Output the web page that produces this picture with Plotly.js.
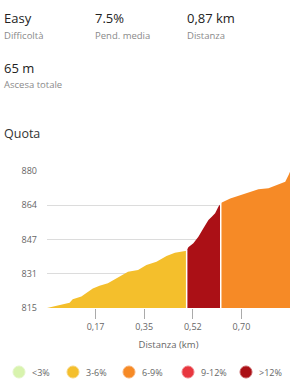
<!DOCTYPE html>
<html>
<head>
<meta charset="utf-8">
<script src="https://cdn.plot.ly/plotly-3.0.1.min.js"></script>
<style>
  html, body { margin: 0; padding: 0; background: #fff; }
  #chart { width: 293px; height: 390px; }
</style>
</head>
<body>
<div id="chart"></div>
<script>
// ---- data ----
const yellowX = [0, 0.045, 0.081, 0.092, 0.123, 0.164, 0.188, 0.218, 0.248, 0.29, 0.326, 0.356, 0.392, 0.428, 0.458, 0.494, 0.5];
const yellowY = [815, 816.4, 817.5, 819.1, 820.4, 824.3, 825.6, 826.7, 829.1, 832.2, 833.0, 835.4, 837.0, 839.7, 841.2, 842.0, 842.2];
const redX = [0.5, 0.506, 0.524, 0.542, 0.56, 0.578, 0.59, 0.602, 0.614, 0.622];
const redY = [842.2, 843.8, 845.7, 848.8, 852.8, 856.7, 858.3, 859.9, 863.1, 864.5];
const orangeX = [0.622, 0.626, 0.656, 0.692, 0.728, 0.757, 0.793, 0.829, 0.853, 0.865, 0.87];
const orangeY = [864.5, 865.0, 867.0, 868.6, 869.9, 871.3, 871.8, 873.8, 874.9, 878.1, 879.7];
const segmentBounds = [0.5, 0.622];
const boundElev = [842.2, 864.5];

const xTickVals = [0.174, 0.348, 0.522, 0.696];
const yTickVals = [815, 831.25, 847.5, 863.75, 880];
const yTickText = ['815', '831', '847', '864', '880'];

const legendLabels = ['<3%', '3-6%', '6-9%', '9-12%', '>12%'];
const statValues = ['Easy', '7.5%', '0,87 km', '65 m'];
const statLabels = ['Difficoltà', 'Pend. media', 'Distanza', 'Ascesa totale'];

// ---- styles ----
const segColors = ['#f4bf2c', '#ab1016', '#f68a26'];
const legendFill = ['#d8f3ae', '#f4bf2c', '#f68a26', '#e8373f', '#ab1016'];
const legendLine = ['#e4f5c8', '#f7d47a', '#f9b071', '#f08086', '#c86064'];
const FONT = '"Open Sans", "Noto Sans", sans-serif';

// pixel -> paper helpers
const L = 47, R = 3, T = 171, B = 82, W = 293, H = 390;
const pw = W - L - R, ph = H - T - B;
const px = x => (x - L) / pw;
const py = y => (H - B - y) / ph;

function fillTrace(x, y, c) {
  return { x: x, y: y, type: 'scatter', mode: 'lines', fill: 'tozeroy',
           fillcolor: c, line: { width: 0, color: c }, hoverinfo: 'skip', showlegend: false };
}
const data = [
  fillTrace(yellowX, yellowY, segColors[0]),
  fillTrace(redX, redY, segColors[1]),
  fillTrace(orangeX, orangeY, segColors[2])
];

const annotations = [];
const shapes = [];
// header stats
const statX = [2, 93, 185, 2];
const statValY = [18, 18, 18, 68];
const statLblY = [35, 35, 35, 84.5];
for (let i = 0; i < statValues.length; i++) {
  annotations.push({ xref: 'paper', yref: 'paper', x: px(statX[i]), y: py(statValY[i]),
    xanchor: 'left', yanchor: 'middle', showarrow: false, text: statValues[i],
    font: { family: FONT, size: 13, color: '#222' } });
  annotations.push({ xref: 'paper', yref: 'paper', x: px(statX[i]), y: py(statLblY[i]),
    xanchor: 'left', yanchor: 'middle', showarrow: false, text: statLabels[i],
    font: { family: FONT, size: 9.5, color: '#8a8a8a' } });
}
annotations.push({ xref: 'paper', yref: 'paper', x: px(2), y: py(133), xanchor: 'left', yanchor: 'middle',
  showarrow: false, text: 'Quota', font: { family: FONT, size: 12.5, color: '#333' } });

// legend
const legCx = [19, 73, 129, 188, 246];
const legY = 372;
for (let i = 0; i < legendLabels.length; i++) {
  shapes.push({ type: 'circle', xref: 'paper', yref: 'paper',
    x0: px(legCx[i] - 6), x1: px(legCx[i] + 6), y0: py(legY + 6), y1: py(legY - 6),
    fillcolor: legendFill[i], line: { color: legendLine[i], width: 1 } });
  annotations.push({ xref: 'paper', yref: 'paper', x: px(legCx[i] + 11), y: py(legY),
    xanchor: 'left', yanchor: 'middle', showarrow: false, text: legendLabels[i],
    font: { family: FONT, size: 9, color: '#666' } });
}

// white separators between segments
for (let i = 0; i < segmentBounds.length; i++) {
  shapes.push({ type: 'line', xref: 'x', yref: 'y', x0: segmentBounds[i], x1: segmentBounds[i],
    y0: 815, y1: boundElev[i] + 0.5, line: { color: '#ffffff', width: 1.5 }, layer: 'above' });
}

const layout = {
  width: W, height: H,
  margin: { l: L, r: R, t: T, b: B, pad: 0 },
  paper_bgcolor: '#fff', plot_bgcolor: '#fff',
  separators: ',.',
  showlegend: false,
  hovermode: false,
  font: { family: FONT, color: '#666' },
  xaxis: {
    range: [0, 0.87], tickvals: xTickVals, tickformat: '.2f',
    ticks: 'outside', ticklen: 10, tickcolor: '#aaa', tickwidth: 1,
    showgrid: false, zeroline: false, showline: false,
    tickfont: { family: FONT, size: 9, color: '#666' },
    title: { text: 'Distanza (km)', font: { family: FONT, size: 9.5, color: '#666' }, standoff: 9 },
    fixedrange: true
  },
  yaxis: {
    range: [815, 880], tickvals: yTickVals, ticktext: yTickText,
    showgrid: true, gridcolor: '#dcdcdc', gridwidth: 1,
    zeroline: false, showline: false, ticks: '',
    ticklabelstandoff: 9,
    tickfont: { family: FONT, size: 9, color: '#666' },
    fixedrange: true
  },
  annotations: annotations,
  shapes: shapes
};

Plotly.newPlot('chart', data, layout, { displayModeBar: false, staticPlot: true });
</script>
</body>
</html>
